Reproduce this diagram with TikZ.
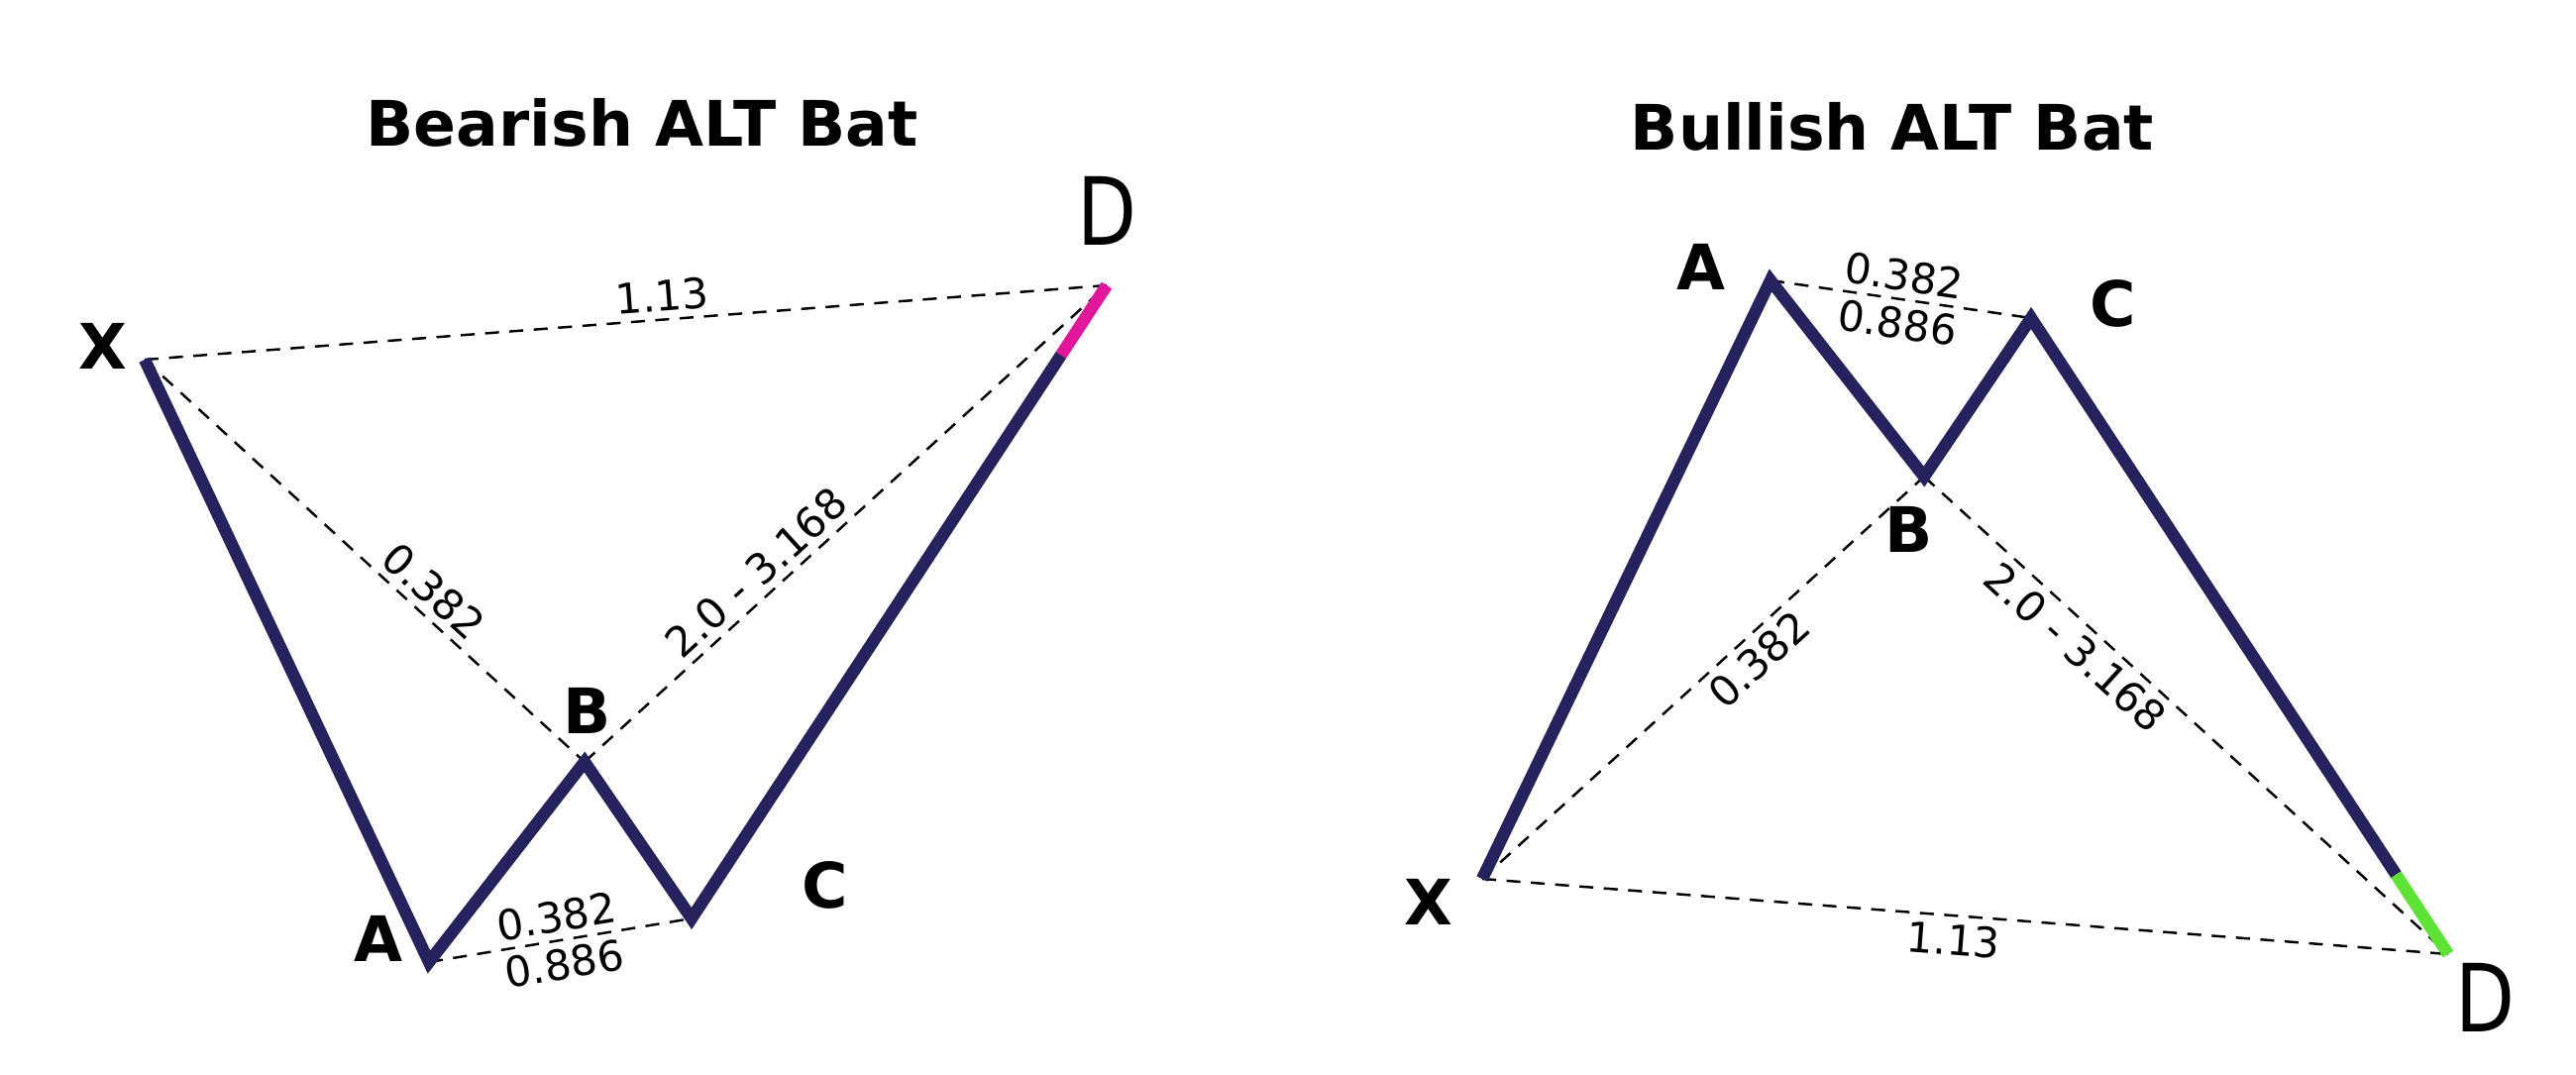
\documentclass[tikz,border=0pt]{standalone}
\usepackage{fontspec}
\setmainfont{DejaVu Sans}
\usepackage{xcolor}
\definecolor{cNavy}{HTML}{25225E}
\definecolor{cPink}{HTML}{E0179B}
\definecolor{cGreen}{HTML}{5EE236}
\usepackage{tikz}
\usetikzlibrary{positioning,calc}
\tikzset{
  leg/.style={draw=cNavy,line width=3.5pt,line join=miter},
  leg-bear/.style={draw=cPink,line width=3.5pt},
  leg-bull/.style={draw=cGreen,line width=3.5pt},
  ratio-line/.style={draw=black,line width=0.7pt,dash pattern=on 4pt off 3pt},
  ratio/.style={font=\fontsize{12}{14}\selectfont,sloped,inner sep=2pt},
  pt-label/.style={font=\fontsize{18}{20}\selectfont\bfseries},
  pt-end/.style={font=\fontsize{27}{30}\selectfont,xscale=0.82},
  title/.style={font=\fontsize{18}{20}\selectfont\bfseries},
}

\begin{document}
\begin{tikzpicture}[x=0.01cm,y=-0.01cm]
  \useasboundingbox (0,0) rectangle (2600,1084);
  % bearish
  \coordinate (bX) at (146,363);
  \coordinate (bA) at (433,971);
  \coordinate (bB) at (590,769);
  \coordinate (bC) at (698,927);
  \coordinate (bD) at (1117,288);
  \coordinate (bP) at ($(bC)!0.89!(bD)$);
  \node[title] (bTitle) at (648,124) {Bearish ALT Bat};
  \draw[ratio-line] (bX) -- node[ratio,above,pos=0.54] (bXD) {1.13} (bD);
  \draw[ratio-line] (bX) -- node[ratio,above,pos=0.62] (bXB) {0.382} (bB);
  \draw[ratio-line] (bB) -- node[ratio,above,pos=0.36] (bBD) {2.0 - 3.168} (bD);
  \draw[ratio-line] (bA) -- node[ratio,above] (bAC1) {0.382}
                           node[ratio,below] (bAC2) {0.886} (bC);
  \draw[leg] (bX) -- (bA) -- (bB) -- (bC) -- (bP);
  \draw[leg-bear] (bP) -- (bD);
  \node[pt-label] (bXl) at (104,349) {X};
  \node[pt-label] (bAl) at (382,947) {A};
  \node[pt-label] (bBl) at (593,717) {B};
  \node[pt-label] (bCl) at (833,893) {C};
  \node[pt-end]   (bDl) at (1117,213) {D};
  % bullish
  \coordinate (uX) at (1496,887);
  \coordinate (uA) at (1787,283);
  \coordinate (uB) at (1942,481);
  \coordinate (uC) at (2050,321);
  \coordinate (uD) at (2471,963);
  \coordinate (uQ) at ($(uC)!0.875!(uD)$);
  \node[title] (uTitle) at (1910,128) {Bullish ALT Bat};
  \draw[ratio-line] (uX) -- node[ratio,below,pos=0.49] (uXD) {1.13} (uD);
  \draw[ratio-line] (uX) -- node[ratio,below,pos=0.59] (uXB) {0.382} (uB);
  \draw[ratio-line] (uB) -- node[ratio,below,pos=0.32] (uBD) {2.0 - 3.168} (uD);
  \draw[ratio-line] (uA) -- node[ratio,above] (uAC1) {0.382}
                           node[ratio,below] (uAC2) {0.886} (uC);
  \draw[leg] (uX) -- (uA) -- (uB) -- (uC) -- (uQ);
  \draw[leg-bull] (uQ) -- (uD);
  \node[pt-label] (uXl) at (1442,910) {X};
  \node[pt-label] (uAl) at (1717,269) {A};
  \node[pt-label] (uBl) at (1927,534) {B};
  \node[pt-label] (uCl) at (2133,306) {C};
  \node[pt-end]   (uDl) at (2508,1007) {D};
\end{tikzpicture}
\end{document}
